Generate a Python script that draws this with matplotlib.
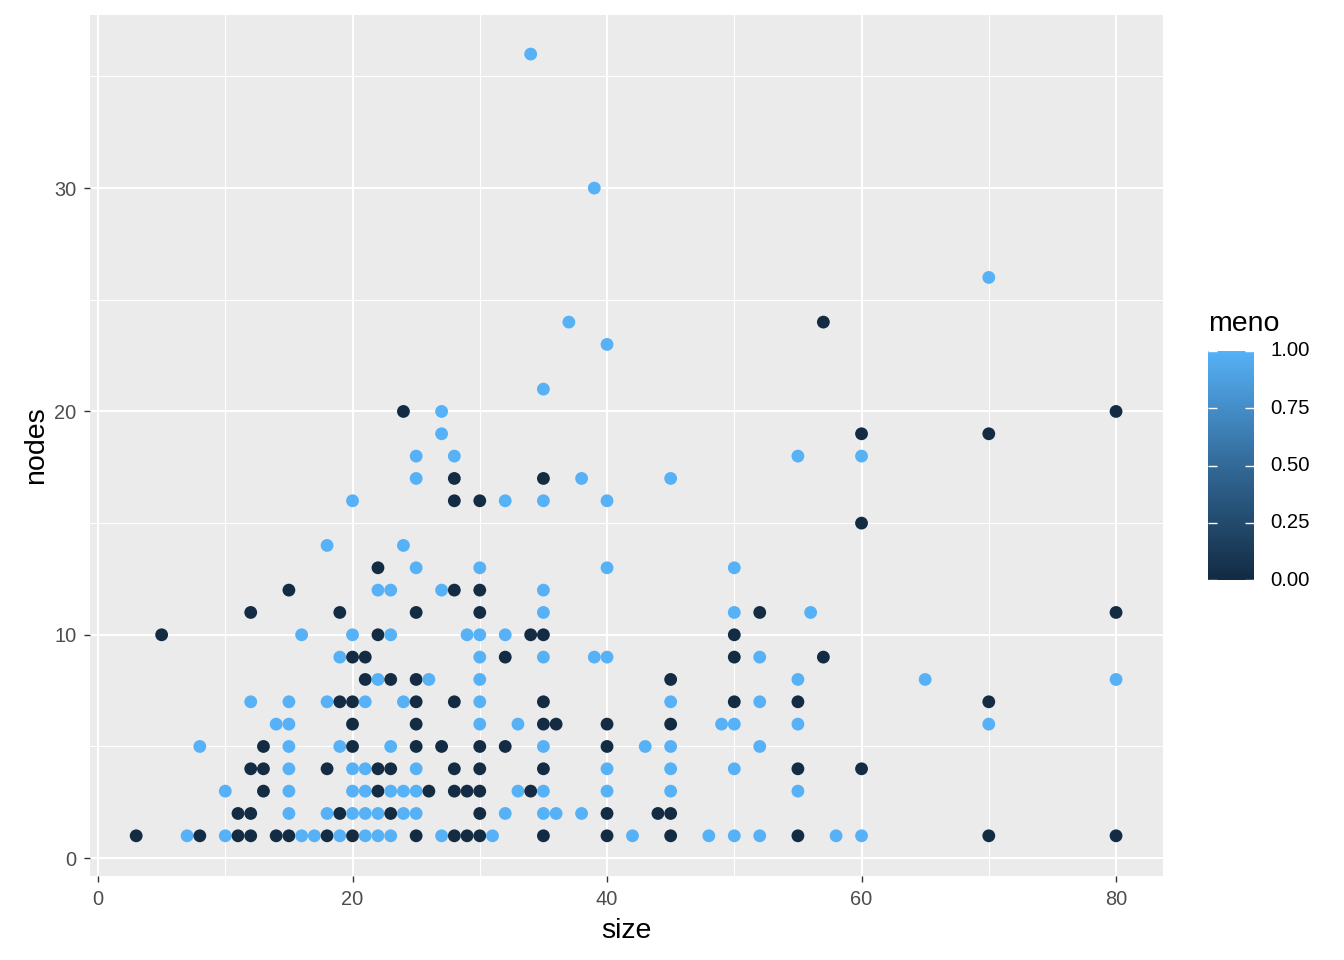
import numpy as np
import matplotlib
matplotlib.use("Agg")
import matplotlib.pyplot as plt
from matplotlib.colors import LinearSegmentedColormap

plt.rcParams['font.family'] = ['Liberation Sans', 'DejaVu Sans']

# ---- data ----
size = [
    3, 7, 8, 10, 11, 12, 14, 15, 16, 17, 18, 19, 20, 21, 22, 23, 25, 27, 28, 29, 30, 31, 35, 40, 42, 45, 48, 50, 52, 55, 58, 60, 70, 80,
    11, 12, 15, 18, 19, 20, 21, 22, 23, 24, 25, 30, 32, 35, 36, 38, 40, 44, 45,
    10, 13, 15, 20, 21, 22, 23, 24, 25, 26, 28, 29, 30, 33, 34, 35, 40, 45, 55,
    12, 13, 15, 18, 20, 21, 22, 23, 25, 28, 30, 35, 40, 45, 50, 55, 60,
    8, 13, 15, 19, 20, 23, 25, 27, 30, 32, 35, 40, 43, 45, 52,
    14, 15, 20, 25, 30, 33, 35, 36, 40, 45, 49, 50, 55, 70,
    12, 15, 18, 19, 20, 21, 24, 25, 28, 30, 35, 45, 50, 52, 55, 70,
    21, 22, 23, 25, 26, 30, 45, 55, 65, 80,
    19, 20, 21, 30, 32, 35, 39, 40, 50, 52, 57,
    5, 16, 20, 22, 23, 29, 30, 32, 34, 35, 50,
    12, 19, 25, 30, 35, 50, 52, 56, 80,
    15, 22, 23, 27, 28, 30, 35,
    22, 25, 30, 40, 50,
    18, 24,
    60,
    20, 28, 30, 32, 35, 40,
    25, 28, 35, 38, 45,
    25, 28, 55, 60,
    27, 60, 70,
    24, 27, 80,
    35,
    40,
    37, 57,
    70,
    39,
    34,
]
nodes = [
    1, 1, 1, 1, 1, 1, 1, 1, 1, 1, 1, 1, 1, 1, 1, 1, 1, 1, 1, 1, 1, 1, 1, 1, 1, 1, 1, 1, 1, 1, 1, 1, 1, 1,
    2, 2, 2, 2, 2, 2, 2, 2, 2, 2, 2, 2, 2, 2, 2, 2, 2, 2, 2,
    3, 3, 3, 3, 3, 3, 3, 3, 3, 3, 3, 3, 3, 3, 3, 3, 3, 3, 3,
    4, 4, 4, 4, 4, 4, 4, 4, 4, 4, 4, 4, 4, 4, 4, 4, 4,
    5, 5, 5, 5, 5, 5, 5, 5, 5, 5, 5, 5, 5, 5, 5,
    6, 6, 6, 6, 6, 6, 6, 6, 6, 6, 6, 6, 6, 6,
    7, 7, 7, 7, 7, 7, 7, 7, 7, 7, 7, 7, 7, 7, 7, 7,
    8, 8, 8, 8, 8, 8, 8, 8, 8, 8,
    9, 9, 9, 9, 9, 9, 9, 9, 9, 9, 9,
    10, 10, 10, 10, 10, 10, 10, 10, 10, 10, 10,
    11, 11, 11, 11, 11, 11, 11, 11, 11,
    12, 12, 12, 12, 12, 12, 12,
    13, 13, 13, 13, 13,
    14, 14,
    15,
    16, 16, 16, 16, 16, 16,
    17, 17, 17, 17, 17,
    18, 18, 18, 18,
    19, 19, 19,
    20, 20, 20,
    21,
    23,
    24, 24,
    26,
    30,
    36,
]
meno = [
    0, 1, 0, 1, 0, 0, 0, 0, 1, 1, 0, 1, 0, 1, 1, 1, 0, 1, 0, 0, 0, 1, 0, 0, 1, 0, 1, 1, 1, 0, 1, 1, 0, 0,
    0, 0, 1, 1, 0, 1, 1, 1, 0, 1, 1, 0, 1, 1, 1, 1, 0, 0, 0,
    1, 0, 1, 1, 1, 0, 1, 1, 1, 0, 0, 0, 0, 1, 0, 1, 1, 1, 1,
    0, 0, 1, 0, 1, 1, 0, 0, 1, 0, 0, 0, 1, 1, 1, 0, 0,
    1, 0, 1, 1, 0, 1, 0, 0, 0, 0, 1, 0, 1, 1, 1,
    1, 1, 0, 0, 1, 1, 0, 0, 0, 0, 1, 1, 1, 1,
    1, 1, 1, 0, 0, 1, 1, 0, 0, 1, 0, 1, 0, 1, 0, 0,
    0, 1, 0, 0, 1, 1, 0, 1, 1, 1,
    1, 0, 0, 1, 0, 1, 1, 1, 0, 1, 0,
    0, 1, 1, 0, 1, 1, 1, 1, 0, 0, 0,
    0, 0, 0, 0, 1, 1, 0, 1, 0,
    0, 1, 1, 1, 0, 0, 1,
    0, 1, 1, 1, 1,
    1, 1,
    0,
    1, 0, 0, 1, 1, 1,
    1, 0, 0, 1, 1,
    1, 1, 1, 1,
    1, 0, 0,
    0, 1, 0,
    1,
    1,
    1, 0,
    1,
    1,
    1,
]
assert len(size) == len(nodes) == len(meno)

x_ticks = [0, 20, 40, 60, 80]
y_ticks = [0, 10, 20, 30]
cbar_ticks = [0.0, 0.25, 0.5, 0.75, 1.0]
cbar_labels = ["0.00", "0.25", "0.50", "0.75", "1.00"]

# ---- style ----
W, H = 1344, 960
low, high = "#132B43", "#56B1F7"
cmap = LinearSegmentedColormap.from_list("gg", [low, "#336A98", high])

fig = plt.figure(figsize=(W / 100, H / 100), dpi=100)
fig.patch.set_facecolor("white")

ax = fig.add_axes([90 / W, 1 - 876 / H, (1163 - 90) / W, (876 - 15) / H])
ax.set_facecolor("#EBEBEB")
for s in ax.spines.values():
    s.set_visible(False)

ax.set_xlim(-0.63, 83.69)
ax.set_ylim(-0.8, 37.75)

ax.set_xticks(x_ticks)
ax.set_yticks(y_ticks)
ax.set_xticks([10, 30, 50, 70], minor=True)
ax.set_yticks([5, 15, 25, 35], minor=True)
ax.grid(which="major", color="white", linewidth=1.5)
ax.grid(which="minor", color="white", linewidth=0.75)
ax.set_axisbelow(True)
ax.tick_params(which="major", length=4.3, width=1.0, color="#333333",
               labelcolor="#4D4D4D", labelsize=14.4, pad=5.5)
ax.tick_params(which="minor", length=0)

ax.scatter(size, nodes, c=meno, cmap=cmap, vmin=0, vmax=1, s=85,
           linewidths=0, zorder=3)

ax.set_xlabel("size", fontsize=20.5, color="black", labelpad=7)
ax.set_ylabel("nodes", fontsize=20.5, color="black", labelpad=4)

# ---- colourbar legend ----
cx0, cx1, cy0, cy1 = 1208, 1254, 351, 580
cax = fig.add_axes([cx0 / W, 1 - cy1 / H, (cx1 - cx0) / W, (cy1 - cy0) / H])
grad = np.linspace(0, 1, 300).reshape(-1, 1)
cax.imshow(grad, aspect="auto", cmap=cmap, origin="lower",
           extent=[0, 1, 0, 1], vmin=0, vmax=1)
cax.set_xlim(0, 1)
cax.set_ylim(0, 1)
cax.set_xticks([])
cax.set_yticks([])
for s in cax.spines.values():
    s.set_visible(False)
for t in cbar_ticks:
    cax.plot([0, 0.2], [t, t], color="white", lw=1.0, solid_capstyle="butt")
    cax.plot([0.8, 1.0], [t, t], color="white", lw=1.0, solid_capstyle="butt")
for t, lab in zip(cbar_ticks, cbar_labels):
    ypx = cy1 - t * (cy1 - cy0)
    fig.text(1270 / W, 1 - ypx / H, lab, fontsize=14.6, color="black",
             va="center", ha="left")
fig.text(cx0 / W, 1 - 324 / H, "meno", fontsize=20.5, color="black",
         va="center", ha="left")

fig.savefig("out.png", dpi=100)
